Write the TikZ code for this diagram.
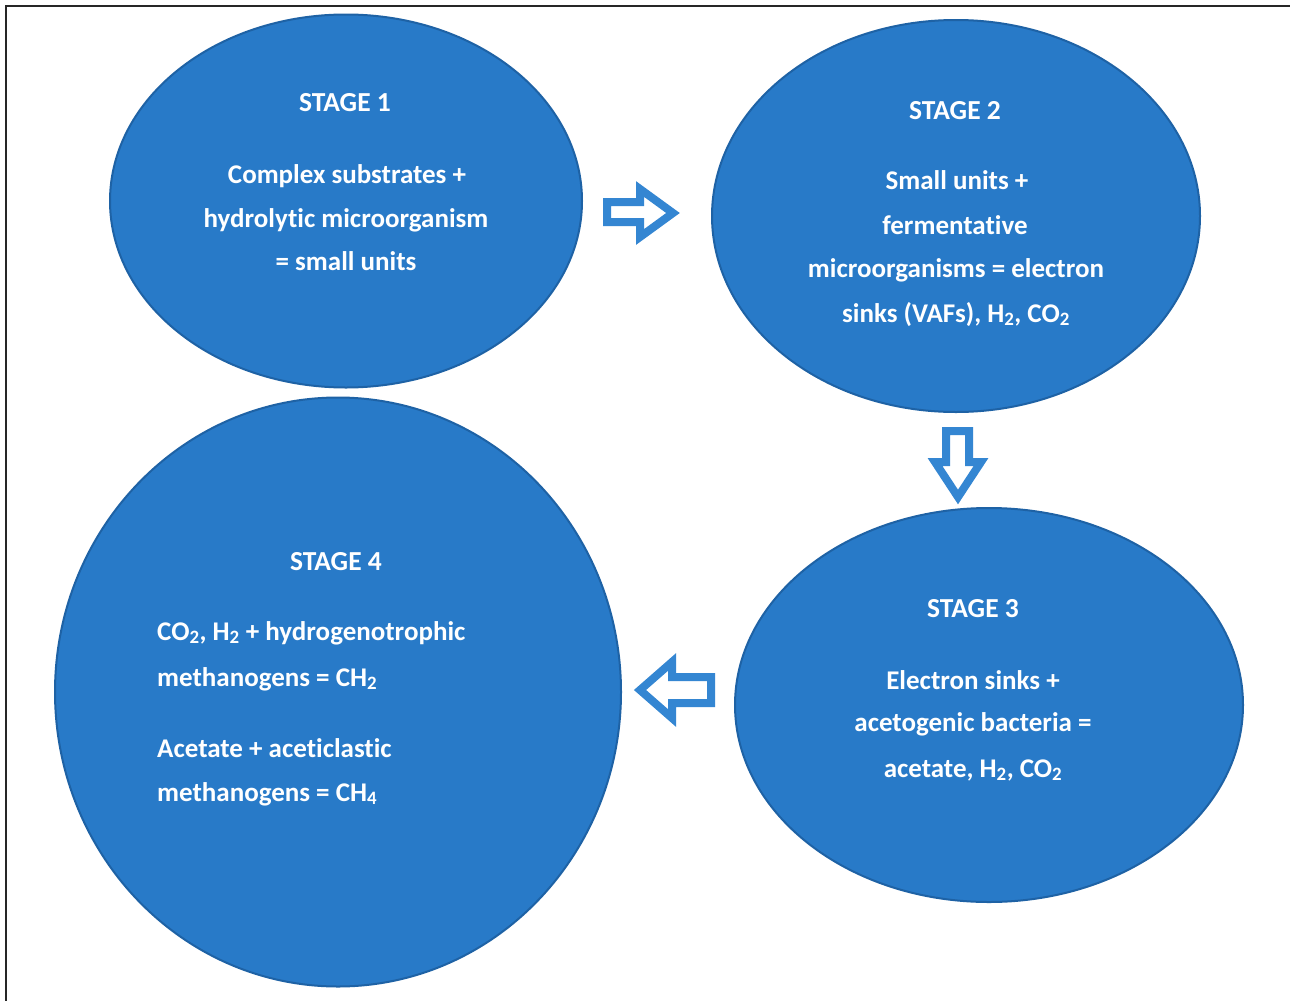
\documentclass[tikz,border=0pt]{standalone}
\usepackage{fontspec}
\setmainfont[Ligatures=CommonOff]{Carlito}
\usetikzlibrary{shapes.geometric}
\definecolor{stagefill}{RGB}{40,122,200}
\definecolor{stageedge}{RGB}{30,98,165}
\definecolor{arrowblue}{RGB}{52,134,210}
\tikzset{
  stagebox/.style={ellipse, fill=stagefill, draw=stageedge, line width=2pt, inner sep=0pt},
  ttl/.style={anchor=base, text=white, font=\fontsize{27.5}{30}\selectfont\bfseries, inner sep=0pt},
  txt/.style={anchor=base, text=white, font=\fontsize{27}{30}\selectfont\bfseries, inner sep=0pt},
  txtl/.style={anchor=base west, text=white, font=\fontsize{27}{30}\selectfont\bfseries, inner sep=0pt},
  hollow/.style={draw=arrowblue, fill=white, line width=8pt, line join=miter, miter limit=3}
}
\newcommand{\sbs}[1]{\textsubscript{#1}}
\begin{document}
\begin{tikzpicture}[x=1pt,y=-1pt]
\useasboundingbox (0,0) rectangle (1290,1001);
\fill[white] (0,0) rectangle (1290,1001);
\coordinate (tl) at (6,6);
\coordinate (tr) at (1290,6);
\coordinate (bl) at (6,1001);
\draw[line width=2.5pt, black!85] (tr) -- (tl) -- (bl);

% stages
\node[stagebox, minimum width=472pt, minimum height=373pt] (s1) at (346,201) {};
\node[stagebox, minimum width=488pt, minimum height=392pt] (s2) at (956,216) {};
\node[stagebox, minimum width=508pt, minimum height=394pt] (s3) at (989,705) {};
\node[stagebox, minimum width=566pt, minimum height=589pt] (s4) at (338,692) {};

% stage 1 text
\node[ttl] (t1) at (345,111) {STAGE 1};
\node[txt] (t1a) at (347,183) {Complex substrates +};
\node[txt] (t1b) at (346,227) {hydrolytic microorganism};
\node[txt] (t1c) at (346,270) {= small units};

% stage 2 text
\node[ttl] (t2) at (955,119) {STAGE 2};
\node[txt] (t2a) at (957,189) {Small units +};
\node[txt] (t2b) at (955,234) {fermentative};
\node[txt] (t2c) at (956,277) {microorganisms = electron};
\node[txt] (t2d) at (956,322) {sinks (VAFs), H\sbs{2}, CO\sbs{2}};

% stage 3 text
\node[ttl] (t3) at (973,617) {STAGE 3};
\node[txt] (t3a) at (973,689) {Electron sinks +};
\node[txt] (t3b) at (973,731) {acetogenic bacteria =};
\node[txt] (t3c) at (973,777) {acetate, H\sbs{2}, CO\sbs{2}};

% stage 4 text
\node[ttl] (t4) at (336,570) {STAGE 4};
\node[txtl] (t4a) at (157,640) {CO\sbs{2}, H\sbs{2} + hydrogenotrophic};
\node[txtl] (t4b) at (157,686) {methanogens = CH\sbs{2}};
\node[txtl] (t4c) at (157,757) {Acetate + aceticlastic};
\node[txtl] (t4d) at (157,801) {methanogens = CH\sbs{4}};

% hollow block arrows
\draw[hollow] (607,202) -- (640,202) -- (640,189) -- (673,213) -- (640,237) -- (640,222) -- (607,222) -- cycle;
\draw[hollow] (946,431) -- (969,431) -- (969,462) -- (981,462) -- (958,497) -- (935,462) -- (946,462) -- cycle;
\draw[hollow] (711,677) -- (672,677) -- (672,662) -- (640,690) -- (672,718) -- (672,703) -- (711,703) -- cycle;
\end{tikzpicture}
\end{document}
